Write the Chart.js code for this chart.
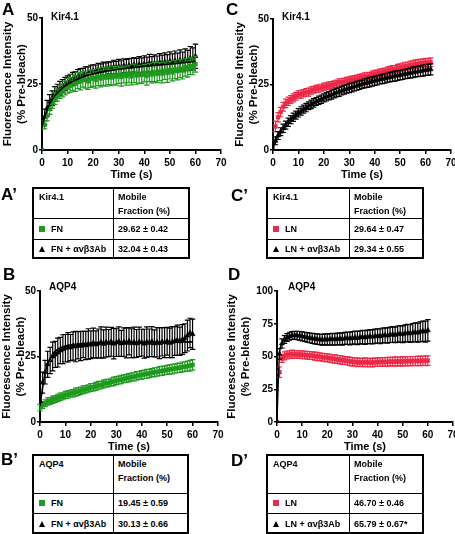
<!DOCTYPE html>
<html>
<head>
<meta charset="utf-8">
<script src="https://cdn.jsdelivr.net/npm/chart.js@4"></script>
<style>
  html, body { margin:0; padding:0; background:#fff; overflow:hidden; }
  #wrap { position:relative; width:455px; height:534px; overflow:hidden; background:#fff; }
  canvas { position:absolute; }
  .lbl { position:absolute; font-family:"Liberation Sans", Arial, Helvetica, sans-serif; font-weight:bold; line-height:1; color:#000; white-space:nowrap; }
  .big { font-size:17px; }
  .ttl { font-size:10px; }
  .tbl { position:absolute; border:2px solid #000; box-sizing:border-box; font-family:"Liberation Sans", Arial, Helvetica, sans-serif; font-weight:bold; font-size:9px; color:#000; }
  .tbl .hl { position:absolute; left:0; right:0; height:0; border-top:1.5px solid #000; }
  .tbl .vl { position:absolute; top:0; bottom:0; width:0; border-left:1.5px solid #000; }
  .tbl .cell { position:absolute; white-space:nowrap; line-height:14px; }
  .sq { display:inline-block; width:6px; height:6px; margin-right:6px; vertical-align:0px; }
  .tri { display:inline-block; width:0; height:0; border-left:3px solid transparent; border-right:3px solid transparent; border-bottom:6px solid #000; margin-right:6px; vertical-align:0px; }
</style>
</head>
<body>
<div id="wrap">
  <canvas id="cA" width="240" height="182" style="left:0px;top:0px"></canvas>
  <canvas id="cC" width="240" height="182" style="left:225px;top:0px"></canvas>
  <canvas id="cB" width="240" height="199" style="left:0px;top:255px"></canvas>
  <canvas id="cD" width="240" height="199" style="left:225px;top:255px"></canvas>

  <div class="lbl big" style="left:2px;top:1px">A</div>
  <div class="lbl big" style="left:1px;top:186px">A’</div>
  <div class="lbl big" style="left:3px;top:266px">B</div>
  <div class="lbl big" style="left:1px;top:451px">B’</div>
  <div class="lbl big" style="left:226px;top:1px">C</div>
  <div class="lbl big" style="left:231px;top:187px">C’</div>
  <div class="lbl big" style="left:228px;top:266px">D</div>
  <div class="lbl big" style="left:231px;top:452px">D’</div>

  <div class="lbl ttl" style="left:51px;top:12px">Kir4.1</div>
  <div class="lbl ttl" style="left:282px;top:12px">Kir4.1</div>
  <div class="lbl ttl" style="left:49px;top:282px">AQP4</div>
  <div class="lbl ttl" style="left:288px;top:282px">AQP4</div>
</div>
<script>
// ---------------- DATA ----------------
const T61 = [0,1,2,3,4,5,6,7,8,9,10,11,12,13,14,15,16,17,18,19,20,21,22,23,24,25,26,27,28,29,30,31,32,33,34,35,36,37,38,39,40,41,42,43,44,45,46,47,48,49,50,51,52,53,54,55,56,57,58,59,60];
const T63 = [0,1,2,3,4,5,6,7,8,9,10,11,12,13,14,15,16,17,18,19,20,21,22,23,24,25,26,27,28,29,30,31,32,33,34,35,36,37,38,39,40,41,42,43,44,45,46,47,48,49,50,51,52,53,54,55,56,57,58,59,60,61,62];

// Panel A: Kir4.1 on FN
const A_FN = [0,9.5,13.0,15.5,17.8,19.5,20.8,22.0,22.6,23.5,24.3,24.6,25.5,25.2,26.3,26.0,26.8,26.6,26.0,27.0,27.3,26.5,27.7,27.1,27.9,27.4,28.1,27.5,28.3,27.8,28.5,27.7,28.6,28.0,28.8,27.9,29.0,28.2,28.7,28.4,29.1,28.1,29.3,28.6,29.5,28.8,29.7,28.9,30.0,29.2,30.3,29.4,30.5,29.9,30.8,30.1,31.3,30.7,31.8,31.5,32.5];
const A_FN_err = [0,1.5,2,2,2,2.2,2.3,2.5,2.5,2.6,2.8,2.8,3,3,3,3.2,3,3.2,3,3.3,3.2,3.1,3.3,3.2,3.4,3.2,3.3,3.1,3.4,3.2,3.3,3.5,3.2,3.4,3.3,3.2,3.5,3.3,3.4,3.2,3.3,3.5,3.4,3.2,3.6,3.3,3.4,3.5,3.3,3.6,3.4,3.2,3.5,3.3,3.4,3.2,3.3,3.1,3.2,3.0,3.0];
const A_Ab = [0,12.5,15.8,18.0,19.6,21.2,22.3,23.4,24.2,25.0,25.6,26.3,26.9,27.2,27.9,28.3,28.5,29.0,29.2,29.6,29.9,30.0,30.4,30.3,30.8,30.6,31.1,30.9,31.4,31.2,31.6,31.3,31.9,31.5,32.0,31.8,32.3,31.9,32.4,32.1,32.6,32.3,32.9,32.4,32.8,32.5,33.1,32.7,33.3,32.8,33.6,33.0,33.8,33.2,34.0,33.5,34.3,33.9,34.8,34.5,35.5];
const A_Ab_err = [0,3,3,3,2.8,2.8,2.6,2.6,2.5,2.5,2.5,2.4,2.5,2.4,2.6,2.5,2.4,2.5,2.3,2.5,2.4,2.2,2.4,2.3,2.5,2.4,2.3,2.5,2.6,2.4,2.7,2.5,2.6,2.8,2.6,2.9,2.7,2.8,3.0,2.8,3.1,2.9,3.3,3.0,3.2,3.1,3.4,3.2,3.5,3.3,3.6,3.4,3.7,3.5,3.9,3.6,4.0,3.8,4.4,4.2,4.6];
const A_fitT = [0,1,2,3,5,7,10,15,20,25,30,40,50,60];
const A_fitY = [9,12.5,15.3,17.5,20.5,22.6,24.9,27.3,28.8,29.8,30.6,31.7,32.6,33.5];

// Panel C: Kir4.1 on LN
const C_LN = [0,9,12.5,14.5,16.5,17.8,18.6,19.3,19.9,20.5,21.2,21.3,21.7,22.0,22.1,22.7,23.0,23.3,23.5,23.8,24.1,24.3,24.6,24.8,25.1,25.3,25.9,25.8,26.1,26.3,26.6,26.8,27.0,27.3,27.5,27.8,28.0,28.2,28.2,28.7,29.0,29.2,29.5,29.7,30.0,30.2,30.5,30.7,30.8,31.2,31.5,31.7,32.0,32.1,32.4,32.5,32.8,32.9,33.1,33.2,33.4,33.3,33.5];
const C_LN_err = [0,2,1.8,1.8,1.7,1.6,1.6,1.5,1.5,1.5,1.4,1.5,1.4,1.4,1.5,1.4,1.3,1.4,1.4,1.3,1.4,1.3,1.4,1.3,1.3,1.4,1.3,1.4,1.3,1.4,1.3,1.4,1.4,1.3,1.4,1.3,1.4,1.4,1.3,1.4,1.4,1.3,1.4,1.4,1.3,1.4,1.4,1.5,1.4,1.5,1.4,1.5,1.5,1.4,1.5,1.5,1.6,1.5,1.6,1.5,1.6,1.6,1.7];
const C_Ab = [0,3.5,5.5,7.0,8.3,9.5,10.6,11.6,12.5,13.3,14.2,14.9,15.6,16.2,16.9,17.4,18.0,18.5,19.0,19.4,19.9,20.3,20.7,21.1,21.5,21.9,22.2,22.6,23.0,23.3,23.6,23.9,24.2,24.5,24.8,25.1,25.4,25.6,25.9,26.1,26.4,26.6,26.9,27.1,27.3,27.6,27.8,28.0,28.2,28.4,28.6,28.8,29.0,29.2,29.4,29.6,29.8,30.0,30.1,30.3,30.5,30.6,30.8];
const C_Ab_err = [0,1.5,1.5,1.5,1.6,1.5,1.6,1.5,1.6,1.5,1.6,1.6,1.5,1.6,1.5,1.6,1.6,1.5,1.6,1.6,1.5,1.6,1.6,1.7,1.6,1.6,1.7,1.6,1.7,1.6,1.7,1.7,1.6,1.7,1.7,1.6,1.7,1.7,1.8,1.7,1.7,1.8,1.7,1.8,1.8,1.7,1.8,1.8,1.9,1.8,1.8,1.9,1.8,1.9,1.9,2.0,1.9,2.0,2.0,2.1,2.0,2.1,2.1];

// Panel B: AQP4 on FN
const B_FN = [5.5,6.5,7.2,7.8,8.0,8.5,8.8,9.2,9.6,9.8,10.3,10.5,10.9,11.0,11.4,11.6,11.9,12.3,12.5,12.8,13.2,13.3,13.6,14.0,14.1,14.5,14.8,14.9,15.3,15.5,15.8,16.0,16.2,16.5,16.7,16.9,17.2,17.3,17.6,17.8,18.0,18.2,18.4,18.5,18.8,19.0,19.1,19.4,19.5,19.7,19.9,20.1,20.2,20.4,20.6,20.7,21.0,21.1,21.3,21.5,21.8];
const B_FN_err = [1.2,1.3,1.3,1.4,1.3,1.4,1.3,1.4,1.4,1.3,1.4,1.4,1.3,1.4,1.5,1.4,1.4,1.5,1.4,1.4,1.5,1.4,1.5,1.5,1.4,1.5,1.5,1.4,1.5,1.6,1.5,1.5,1.6,1.5,1.5,1.6,1.5,1.6,1.6,1.5,1.6,1.6,1.7,1.6,1.6,1.7,1.6,1.7,1.7,1.6,1.7,1.7,1.8,1.7,1.8,1.8,1.9,1.8,1.9,2.0,2.0];
const B_Ab = [8,15,19,22,23.5,25,25.8,26.5,27.3,27.8,28.2,28.5,28.4,29.0,28.8,29.3,29.0,29.6,29.2,29.8,29.5,30.2,29.6,30.0,30.4,29.8,30.5,30.1,30.6,29.9,30.3,30.7,30.0,30.5,30.2,30.8,30.1,30.4,30.0,30.6,30.3,29.9,30.5,30.2,30.7,30.0,30.4,30.1,30.6,30.3,30.8,30.2,30.5,30.9,31.2,30.8,31.5,32.0,33.0,34.0,33.5];
const B_Ab_err = [0,4,4.5,5,5,5.5,5,5.5,5,5.5,5.2,5.6,5,5.4,5.8,5.2,5.6,5.0,5.4,5.8,5.3,5.6,5.2,5.5,5.9,5.4,5.7,5.2,5.5,5.8,5.3,5.6,5.0,5.4,5.7,5.2,5.5,5.8,5.3,5.6,5.1,5.5,5.8,5.3,5.7,5.2,5.6,5.9,5.4,5.7,5.3,5.6,5.9,5.5,5.8,5.4,5.7,5.5,5.9,5.6,5.8];
const B_fitT = [0,1,2,3,5,7,10,15,20,30,40,50,60];
const B_fitY = [6,13,18.5,22,26,27.8,29,29.8,30.1,30.3,30.4,30.5,30.6];

// Panel D: AQP4 on LN
const D_LN = [0,38,48.5,50.5,51.2,51.6,51.8,51.6,51.5,51.6,51.3,51.2,51.0,50.8,50.6,50.3,50.0,49.8,49.5,49.2,49.0,48.7,48.4,48.1,47.8,47.5,47.2,46.9,46.6,46.3,46.0,45.8,45.6,45.5,45.4,45.6,45.5,45.3,45.4,45.6,45.7,45.8,45.9,45.8,46.0,46.1,46.0,46.2,46.3,46.1,46.4,46.3,46.5,46.4,46.6,46.5,46.7,46.6,46.8,46.7,46.9];
const D_LN_err = [0,4,3,3,3,2.8,3,2.8,3,2.9,3,2.8,3,3,2.9,3,3.1,3,3,3.1,3,3,3.1,3.2,3,3.1,3.2,3,3.1,3.2,3.1,3.2,3.3,3.1,3.2,3.3,3.2,3.1,3.3,3.2,3.3,3.4,3.2,3.3,3.4,3.3,3.4,3.5,3.3,3.4,3.5,3.4,3.5,3.6,3.4,3.5,3.6,3.5,3.6,3.7,3.6];
const D_Ab = [0,52,60,63,64.5,65.5,66,66.2,66,65.8,65.4,65,64.6,64.2,63.8,63.5,63.2,63.0,62.8,63.0,62.9,63.1,63.3,63.0,63.4,63.6,63.3,63.8,64.0,63.7,64.2,64.4,64.1,64.6,64.8,64.5,65.0,65.2,65.0,65.5,65.7,65.4,66.0,66.2,66.0,66.6,66.8,66.5,67.1,67.3,67.0,67.6,67.9,67.6,68.2,68.5,68.2,68.9,69.3,69.0,70.0];
const D_Ab_err = [0,4,3.5,3,3,3,3,3,3.2,3.3,3.4,3.5,3.6,3.7,3.8,3.9,4,4,4.1,4.2,4.2,4.3,4.4,4.4,4.5,4.5,4.6,4.6,4.7,4.8,4.8,4.9,5.0,5.0,5.1,5.2,5.2,5.3,5.4,5.4,5.5,5.6,5.6,5.7,5.8,5.9,6.0,6.0,6.2,6.3,6.4,6.5,6.6,6.8,7.0,7.1,7.3,7.5,7.8,8.0,8.2];

// tick labels
const X_TICKS = [0,10,20,30,40,50,60,70];
const Y_TICKS_50 = [0,25,50];
const Y_TICKS_100 = [0,25,50,75,100];

// table contents
const TABLE_A = {head:'Kir4.1', rows:[['sq','FN','29.62 ± 0.42'],['tri','FN + αvβ3Ab','32.04 ± 0.43']]};
const TABLE_C = {head:'Kir4.1', rows:[['sq','LN','29.64 ± 0.47'],['tri','LN + αvβ3Ab','29.34 ± 0.55']]};
const TABLE_B = {head:'AQP4', rows:[['sq','FN','19.45 ± 0.59'],['tri','FN + αvβ3Ab','30.13 ± 0.66']]};
const TABLE_D = {head:'AQP4', rows:[['sq','LN','46.70 ± 0.46'],['tri','LN + αvβ3Ab','65.79 ± 0.67*']]};

// ---------------- STYLE ----------------
const FONT = '"Liberation Sans", Arial, Helvetica, sans-serif';
const GREEN = '#1f9a1f';
const RED = '#ec2a48';
const BLACK = '#000000';

const pts = (T, Y) => Y.map((v, i) => ({x: T[i], y: v}));

const errorBars = {
  id: 'errorBars',
  beforeDatasetDraw(chart, args) {
    const ds = chart.data.datasets[args.index];
    if (!ds.errors) return;
    const ys = chart.scales.y;
    const ctx = chart.ctx;
    ctx.save();
    ctx.strokeStyle = ds.errColor;
    ctx.lineWidth = 1.2;
    args.meta.data.forEach((el, i) => {
      const e = ds.errors[i];
      if (!e) return;
      const v = ds.data[i].y;
      const yt = ys.getPixelForValue(v + e);
      const yb = ys.getPixelForValue(v - e);
      const x = el.x;
      ctx.beginPath();
      ctx.moveTo(x, yt); ctx.lineTo(x, yb);
      ctx.moveTo(x - 2.7, yt); ctx.lineTo(x + 2.7, yt);
      ctx.moveTo(x - 2.7, yb); ctx.lineTo(x + 2.7, yb);
      ctx.stroke();
    });
    ctx.restore();
  }
};

function series(T, Y, E, color, style, showLine) {
  return {
    data: pts(T, Y), errors: E, errColor: color,
    showLine: !!showLine, borderColor: color, borderWidth: 1.3,
    backgroundColor: color, pointStyle: style,
    pointRadius: style === 'triangle' ? 3 : 2.7,
    pointBorderWidth: 0.5, pointBorderColor: color,
    cubicInterpolationMode: 'monotone'
  };
}
function fitLine(T, Y) {
  return {
    data: pts(T, Y), showLine: true, borderColor: BLACK, borderWidth: 1.6,
    pointRadius: 0, cubicInterpolationMode: 'monotone', fill: false
  };
}

function makeChart(id, o) {
  const tickFont = {family: FONT, size: 10, weight: 'bold'};
  new Chart(document.getElementById(id), {
    type: 'scatter',
    data: {datasets: o.datasets},
    plugins: [errorBars],
    options: {
      responsive: false, animation: false, devicePixelRatio: 1,
      layout: {padding: o.padding},
      plugins: {legend: {display: false}, tooltip: {enabled: false}},
      scales: {
        x: {
          type: 'linear', min: 0, max: 70,
          afterBuildTicks: s => { s.ticks = X_TICKS.map(v => ({value: v})); },
          ticks: {font: tickFont, color: '#000', padding: 3, maxRotation: 0, autoSkip: false},
          grid: {drawOnChartArea: false, drawTicks: true, tickLength: 4, color: '#000', lineWidth: 1.5},
          border: {color: '#000', width: 2},
          title: {display: true, text: 'Time (s)', color: '#000', padding: 0,
                  font: {family: FONT, size: 11, weight: 'bold'}},
          afterFit: s => { s.height = o.xHeight; }
        },
        y: {
          type: 'linear', min: 0, max: o.yMax,
          afterBuildTicks: s => { s.ticks = o.yTicks.map(v => ({value: v})); },
          ticks: {font: tickFont, color: '#000', padding: 1, autoSkip: false},
          grid: {drawOnChartArea: false, drawTicks: true, tickLength: 3, color: '#000', lineWidth: 1.5},
          border: {color: '#000', width: 2},
          title: {display: true, text: ['Fluorescence Intensity', '(% Pre-bleach)'], color: '#000',
                  padding: 0, font: {family: FONT, size: 11.5, weight: 'bold', lineHeight: 1.22}},
          afterFit: s => { s.width = o.yWidth; }
        }
      }
    }
  });
}

makeChart('cA', {
  yMax: 50, yTicks: Y_TICKS_50, yWidth: 41, xHeight: 32,
  padding: {left: 1, top: 18, right: 19, bottom: 0},
  datasets: [
    fitLine(A_fitT, A_fitY),
    series(T61, A_FN, A_FN_err, GREEN, 'rect'),
    series(T61, A_Ab, A_Ab_err, BLACK, 'triangle')
  ]
});
makeChart('cC', {
  yMax: 50, yTicks: Y_TICKS_50, yWidth: 40, xHeight: 32,
  padding: {left: 8, top: 19, right: 14, bottom: 0},
  datasets: [
    series(T63, C_Ab, C_Ab_err, BLACK, 'triangle', true),
    series(T63, C_LN, C_LN_err, RED, 'rect')
  ]
});
makeChart('cB', {
  yMax: 50, yTicks: Y_TICKS_50, yWidth: 40, xHeight: 32,
  padding: {left: 0, top: 36, right: 22, bottom: 0},
  datasets: [
    fitLine(B_fitT, B_fitY),
    series(T61, B_Ab, B_Ab_err, BLACK, 'triangle'),
    series(T61, B_FN, B_FN_err, GREEN, 'rect')
  ]
});
makeChart('cD', {
  yMax: 100, yTicks: Y_TICKS_100, yWidth: 52, xHeight: 32,
  padding: {left: 0, top: 36, right: 12, bottom: 0},
  datasets: [
    series(T61, D_Ab, D_Ab_err, BLACK, 'triangle', true),
    series(T61, D_LN, D_LN_err, RED, 'rect')
  ]
});

// ---------------- TABLES ----------------
function makeTable(t, left, top, width, height, col1, rowH, markColor) {
  const wrap = document.getElementById('wrap');
  const d = document.createElement('div');
  d.className = 'tbl';
  Object.assign(d.style, {left: left + 'px', top: top + 'px', width: width + 'px', height: height + 'px'});
  const inner = col1 - 2;
  const v = document.createElement('div'); v.className = 'vl'; v.style.left = inner + 'px'; d.appendChild(v);
  [rowH[0], rowH[0] + rowH[1]].forEach(yy => {
    const h = document.createElement('div'); h.className = 'hl'; h.style.top = (yy - 2) + 'px'; d.appendChild(h);
  });
  const cell = (x, yTop, html) => {
    const c = document.createElement('div'); c.className = 'cell';
    c.style.left = x + 'px'; c.style.top = yTop + 'px'; c.innerHTML = html; d.appendChild(c);
  };
  cell(5, 1, t.head);
  cell(inner + 5, 1, 'Mobile<br>Fraction (%)');
  let yy = rowH[0] - 2;
  t.rows.forEach((r, i) => {
    const h = rowH[i + 1];
    const mid = yy + h / 2 - 7;
    const mk = r[0] === 'sq' ? `<span class="sq" style="background:${markColor}"></span>` : '<span class="tri"></span>';
    cell(5, mid, mk + r[1]);
    cell(inner + 5, mid, r[2]);
    yy += h;
  });
  wrap.appendChild(d);
}
makeTable(TABLE_A, 32, 187, 158, 72, 81, [31, 21, 20], GREEN);
makeTable(TABLE_C, 266, 187, 158, 72, 83, [31, 21, 20], RED);
makeTable(TABLE_B, 32, 454, 157, 80, 81, [39, 20, 21], GREEN);
makeTable(TABLE_D, 266, 454, 158, 80, 83, [39, 20, 21], RED);
</script>
</body>
</html>
